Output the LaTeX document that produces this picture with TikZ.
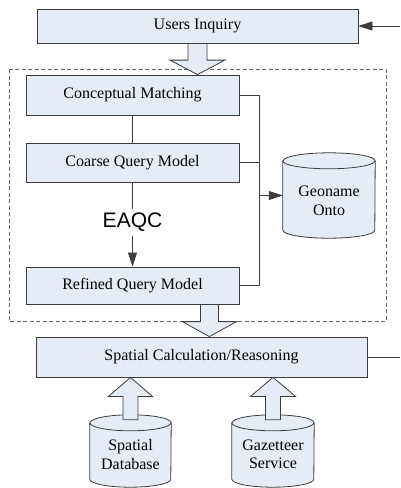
\documentclass[tikz,border=0pt]{standalone}
\usepackage{fontspec}
\setmainfont{Liberation Serif}
\newfontfamily\labelsans{Liberation Sans}
\usetikzlibrary{arrows.meta,calc}

\definecolor{boxfill}{RGB}{230,236,246}
\definecolor{edge}{RGB}{60,60,60}
\definecolor{dashgray}{RGB}{100,100,100}

% hollow block arrow from tail #1 to tip #2
% #3 shaft half width, #4 head half width, #5 head length
\newcommand{\fatarrow}[5]{%
  \draw[fat] ($(#1)+(-#3,0)$) -- ($(#2)!#5!(#1)+(-#3,0)$)
    -- ($(#2)!#5!(#1)+(-#4,0)$) -- (#2)
    -- ($(#2)!#5!(#1)+(#4,0)$) -- ($(#2)!#5!(#1)+(#3,0)$)
    -- ($(#1)+(#3,0)$) -- cycle;}

% upright cylinder filling the box of node #1, x radius #2 (pt)
\newcommand{\drum}[2]{%
  \draw[drumline] ($(#1.north west)+(0,8)$) -- ($(#1.south west)+(0,-8)$)
    arc[start angle=180,end angle=360,x radius=#2pt,y radius=8pt]
    -- ($(#1.north east)+(0,8)$)
    arc[start angle=0,end angle=180,x radius=#2pt,y radius=8pt] -- cycle;
  \draw[drumline,fill=none] ($(#1.north west)+(0,8)$)
    arc[start angle=180,end angle=360,x radius=#2pt,y radius=8pt];}

\begin{document}
\begin{tikzpicture}[x=1pt,y=-1pt,
  txt/.style={font=\fontsize{16}{18.5}\selectfont, align=center},
  box/.style={txt, draw=edge, fill=boxfill, line width=0.8pt, inner sep=0pt},
  fat/.style={draw=edge, fill=boxfill, line width=0.8pt, line join=miter},
  drumline/.style={draw=edge, fill=boxfill, line width=0.8pt},
  area/.style={draw=none, inner sep=0pt},
  wire/.style={draw=edge, line width=0.8pt},
  tip/.style={-{Triangle[length=14pt,width=9pt]}},
  group/.style={draw=dashgray, line width=0.8pt, dash pattern=on 4pt off 2.5pt}]
\useasboundingbox (0,0) rectangle (400,488);

% dashed frame around the query modelling stage
\draw[group] (9,69) rectangle (386,321);

% process boxes
\node[box, minimum width=321pt, minimum height=34pt] (ui) at (197.5,26) {Users Inquiry};
\node[box, minimum width=213pt, minimum height=40pt] (cm) at (132.5,95) {Conceptual Matching};
\node[box, minimum width=213pt, minimum height=39pt] (cq) at (132.5,162.5) {Coarse Query Model};
\node[box, minimum width=213pt, minimum height=37pt] (rq) at (132.5,285.5) {Refined Query Model};
\node[box, minimum width=331pt, minimum height=40pt] (sc) at (201.5,357) {Spatial Calculation/Reasoning};

% data stores
\node[area, minimum width=92pt, minimum height=85pt] (geo) at (329,195.5) {};
\node[area, minimum width=81pt, minimum height=72pt] (db) at (130.5,451) {};
\node[area, minimum width=82pt, minimum height=72pt] (gz) at (273,451) {};
\drum{geo}{46}
\drum{db}{40.5}
\drum{gz}{41}
\node[txt, inner sep=0pt] (geotext) at (329,201) {Geoname\\Onto};
\node[txt, inner sep=0pt] (dbtext) at (130.5,454.5) {Spatial\\Database};
\node[txt, inner sep=0pt] (gztext) at (273,454.5) {Gazetteer\\Service};

% incoming and outgoing lines at the right edge
\coordinate (inR) at (400,26);
\coordinate (outR) at (400,357);
\draw[wire, tip] (inR) -- (ui.east);
\draw[wire] (sc.east) -- (outR);

% query refinement chain
\node[font=\labelsans\fontsize{21}{24}\selectfont, inner sep=4pt] (eaqc) at (132.5,222.5) {EAQC};
\draw[wire] (cm) -- (cq);
\draw[wire] (cq.south) -- (eaqc.north);
\draw[wire, tip] (eaqc.south) -- (rq.north);

% links to the gazetteer ontology
\coordinate (bus) at ($(cm.east)+(20,0)$);
\draw[wire] (cm.east) -- (bus) |- (rq.east);
\draw[wire] (cq.east) -- (cq.east -| bus);
\draw[wire, tip] (bus |- geo.west) -- (geo.west);

% block arrows between stages
\coordinate (a1t) at (ui.south);
\coordinate (a1h) at (ui.south |- cm.north);
\fatarrow{a1t}{a1h}{9.5pt}{27.5pt}{14.5pt}
\coordinate (a2t) at ($(rq.south east)+(-30,0)$);
\coordinate (a2h) at (a2t |- sc.north);
\fatarrow{a2t}{a2h}{9pt}{27pt}{15pt}
\coordinate (a3t) at ($(db.north)+(0,5)$);
\coordinate (a3h) at (a3t |- sc.south);
\fatarrow{a3t}{a3h}{7.5pt}{22pt}{19pt}
\coordinate (a4t) at ($(gz.north)+(0,5)$);
\coordinate (a4h) at (a4t |- sc.south);
\fatarrow{a4t}{a4h}{7.5pt}{22.5pt}{19pt}
\end{tikzpicture}
\end{document}
